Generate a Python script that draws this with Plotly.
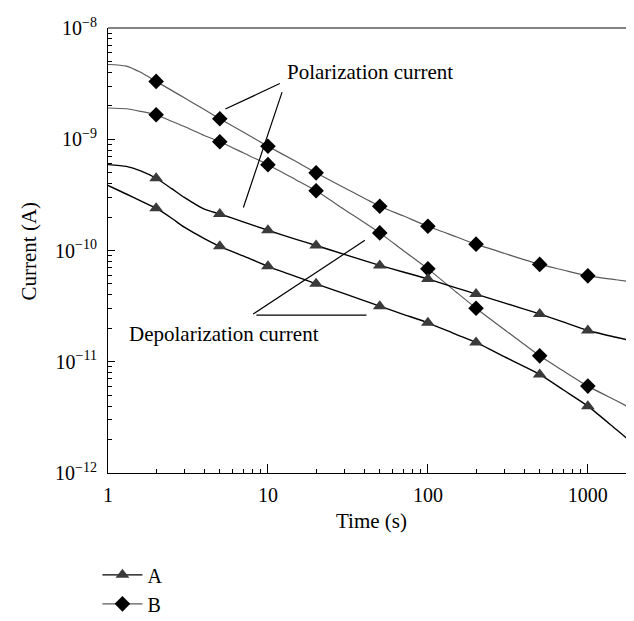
import plotly.graph_objects as go

# ---- data ----
t_curve = [1, 1.3, 1.6, 2, 2.5, 3, 4, 5, 7, 10, 15, 20, 30, 50, 70, 100, 150, 200, 300, 500, 700, 1000, 1500, 2000]
t_mark = [2, 5, 10, 20, 50, 100, 200, 500, 1000]

# Sample B, polarization current
b_pol_curve = [4.70e-9, 4.55e-9, 4.0e-9, 3.31e-9, 2.75e-9, 2.36e-9, 1.85e-9, 1.53e-9, 1.16e-9, 8.65e-10, 6.3e-10,
               4.99e-10, 3.67e-10, 2.50e-10, 2.05e-10, 1.65e-10, 1.33e-10, 1.14e-10, 9.44e-11, 7.50e-11,
               6.68e-11, 5.92e-11, 5.46e-11, 5.15e-11]
b_pol_mark = [3.31e-9, 1.53e-9, 8.65e-10, 4.99e-10, 2.50e-10, 1.65e-10, 1.14e-10, 7.50e-11, 5.92e-11]

# Sample B, depolarization current
b_dep_curve = [1.91e-9, 1.88e-9, 1.78e-9, 1.66e-9, 1.45e-9, 1.30e-9, 1.08e-9, 9.5e-10, 7.55e-10, 5.91e-10, 4.31e-10,
               3.44e-10, 2.34e-10, 1.44e-10, 1.0e-10, 6.84e-11, 4.24e-11, 3.03e-11, 1.95e-11, 1.13e-11,
               8.3e-12, 6.04e-12, 4.48e-12, 3.61e-12]
b_dep_mark = [1.66e-9, 9.5e-10, 5.91e-10, 3.44e-10, 1.44e-10, 6.84e-11, 3.03e-11, 1.13e-11, 6.04e-12]

# Sample A, polarization current
a_pol_curve = [5.91e-10, 5.7e-10, 5.2e-10, 4.46e-10, 3.6e-10, 3.0e-10, 2.35e-10, 2.13e-10, 1.81e-10, 1.52e-10, 1.26e-10,
               1.11e-10, 9.23e-11, 7.35e-11, 6.41e-11, 5.55e-11, 4.62e-11, 4.06e-11, 3.38e-11, 2.69e-11,
               2.28e-11, 1.91e-11, 1.66e-11, 1.51e-11]
a_pol_mark = [4.46e-10, 2.13e-10, 1.52e-10, 1.11e-10, 7.35e-11, 5.55e-11, 4.06e-11, 2.69e-11, 1.91e-11]

# Sample A, depolarization current
a_dep_curve = [3.85e-10, 3.22e-10, 2.79e-10, 2.40e-10, 1.95e-10, 1.62e-10, 1.28e-10, 1.09e-10, 8.93e-11, 7.21e-11, 5.83e-11,
               5.02e-11, 4.09e-11, 3.16e-11, 2.67e-11, 2.24e-11, 1.76e-11, 1.49e-11, 1.11e-11, 7.7e-12,
               5.6e-12, 3.99e-12, 2.47e-12, 1.75e-12]
a_dep_mark = [2.40e-10, 1.09e-10, 7.21e-11, 5.02e-11, 3.16e-11, 2.24e-11, 1.49e-11, 7.7e-12, 3.99e-12]

x_tickvals = [1, 10, 100, 1000]
x_ticktext = ["1", "10", "100", "1000"]
y_tickvals = [1e-12, 1e-11, 1e-10, 1e-9, 1e-8]
y_ticktext = ["10<sup>\u221212</sup>", "10<sup>\u221211</sup>", "10<sup>\u221210</sup>",
              "10<sup>\u22129</sup>", "10<sup>\u22128</sup>"]

# ---- styles ----
FONT = "Liberation Serif, Times New Roman, serif"
A_LINE = "#000000"
A_MARK = "#3a3a3a"
B_LINE = "#5a5a5a"
B_MARK = "#000000"

fig = go.Figure()

def add_curve(y_curve, y_mark, line_color, mark_color, symbol, size, width):
    fig.add_trace(go.Scatter(x=t_curve, y=y_curve, mode="lines",
                             line=dict(color=line_color, width=width, shape="spline", smoothing=0.6),
                             showlegend=False, hoverinfo="skip"))
    fig.add_trace(go.Scatter(x=t_mark, y=y_mark, mode="markers",
                             marker=dict(symbol=symbol, size=size, color=mark_color),
                             showlegend=False))

add_curve(b_pol_curve, b_pol_mark, B_LINE, B_MARK, "diamond", 12, 1.2)
add_curve(b_dep_curve, b_dep_mark, B_LINE, B_MARK, "diamond", 12, 1.2)
add_curve(a_pol_curve, a_pol_mark, A_LINE, A_MARK, "triangle-up", 12, 1.4)
add_curve(a_dep_curve, a_dep_mark, A_LINE, A_MARK, "triangle-up", 12, 1.4)

# legend entries
fig.add_trace(go.Scatter(x=[None], y=[None], mode="lines+markers", name="A",
                         line=dict(color=A_LINE, width=1.4),
                         marker=dict(symbol="triangle-up", size=12, color=A_MARK)))
fig.add_trace(go.Scatter(x=[None], y=[None], mode="lines+markers", name="B",
                         line=dict(color=B_LINE, width=1.4),
                         marker=dict(symbol="diamond", size=12, color=B_MARK)))

x_minor = [m * 10 ** d for d in range(0, 4) for m in range(2, 10) if m * 10 ** d <= 2000]
y_minor = [m * 10.0 ** d for d in range(-12, -8) for m in range(2, 10)]

fig.update_xaxes(type="log", range=[0, 3.30103], tickvals=x_tickvals, ticktext=x_ticktext,
                 ticks="inside", ticklen=9, tickwidth=1, tickcolor="black",
                 minor=dict(tickvals=x_minor, ticks="inside", ticklen=4, tickwidth=1, tickcolor="black", showgrid=False),
                 showline=True, linecolor="black", linewidth=1.2, mirror=False,
                 showgrid=False, zeroline=False, ticklabelstandoff=4,
                 tickfont=dict(family=FONT, size=20, color="black"))
fig.update_yaxes(type="log", range=[-12, -8], tickvals=y_tickvals, ticktext=y_ticktext,
                 ticks="inside", ticklen=7, tickwidth=1, tickcolor="black",
                 minor=dict(tickvals=y_minor, ticks="inside", ticklen=4, tickwidth=1, tickcolor="black", showgrid=False),
                 showline=True, linecolor="black", linewidth=1.2, mirror=True,
                 showgrid=False, zeroline=False, ticklabelstandoff=6,
                 tickfont=dict(family=FONT, size=20, color="black"))

shapes = [
    # top border (gray)
    dict(type="line", xref="paper", yref="paper", x0=0, x1=1, y0=1, y1=1, line=dict(color="#5a5a5a", width=1.5)),
    # polarization pointers
    dict(type="line", xref="paper", yref="paper", x0=0.3254, y0=0.8751, x1=0.2223, y1=0.8179, line=dict(color="black", width=1.2)),
    dict(type="line", xref="paper", yref="paper", x0=0.3297, y0=0.8558, x1=0.2564, y1=0.5965, line=dict(color="black", width=1.2)),
    # depolarization pointers
    dict(type="line", xref="paper", yref="paper", x0=0.2810, y0=0.3547, x1=0.4895, y1=0.3547, line=dict(color="black", width=1.2)),
    dict(type="line", xref="paper", yref="paper", x0=0.2748, y0=0.3572, x1=0.4865, y1=0.5228, line=dict(color="black", width=1.2)),
]

def txt(text, x, y, **kw):
    d = dict(text=text, xref="paper", yref="paper", x=x, y=y, xanchor="center", yanchor="middle",
             showarrow=False, font=dict(family=FONT, size=21, color="black"))
    d.update(kw)
    return d

annotations = [
    txt("Polarization current", 0.4965, 0.9014),
    txt("Depolarization current", 0.2198, 0.3128),
    txt("Time (s)", 0.4984, -0.1078),
    txt("Current (A)", -0.1497, 0.5, textangle=-90),
]

fig.update_layout(
    width=634, height=621,
    margin=dict(l=100, r=6, t=20, b=134),
    paper_bgcolor="white", plot_bgcolor="white",
    shapes=shapes, annotations=annotations,
    legend=dict(x=-0.02, y=-0.185, xanchor="left", yanchor="top",
                font=dict(family=FONT, size=20, color="black"),
                tracegroupgap=0, itemwidth=40, bgcolor="rgba(0,0,0,0)"),
    showlegend=True,
)

fig.write_html("out.html")
